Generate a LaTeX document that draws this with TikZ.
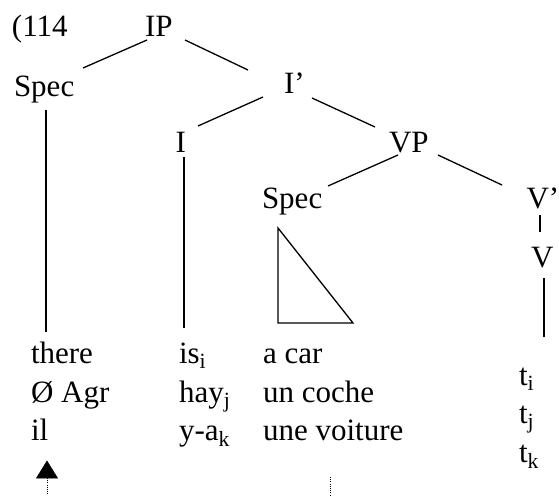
\documentclass[tikz,border=0pt]{standalone}
\usepackage{fontspec}
\setmainfont{Liberation Serif}
\newcommand\mysub[1]{\textsubscript{#1}}
\tikzset{
  lbl/.style={anchor=base west, inner sep=0pt, outer sep=0pt, font=\fontsize{31}{37}\selectfont},
  branch/.style={line width=1.3pt},
  dotline/.style={line width=0.9pt, dash pattern=on 0.9pt off 1.3pt},
  headtri/.style={fill=black, draw=black, line width=0.5pt, line join=miter}
}
\begin{document}
\begin{tikzpicture}[x=1pt,y=-1pt]
\useasboundingbox (0,0) rectangle (559,495);
% labels
\node[lbl] (num) at (12,37) {(114};
\node[lbl] (IP) at (145,37) {IP};
\node[lbl] (SpecA) at (14,96) {Spec};
\node[lbl] (Ibar) at (284,93) {I’};
\node[lbl] (I) at (175.5,152) {I};
\node[lbl] (VP) at (389,152) {VP};
\node[lbl] (SpecB) at (262,208) {Spec};
\node[lbl] (Vbar) at (526.5,208) {V’};
\node[lbl] (V) at (531,267) {V};
% terminals
\node[lbl] (there) at (31,363) {there};
\node[lbl] (agr) at (31,402) {Ø Agr};
\node[lbl] (il) at (31,440) {il};
\node[lbl] (is) at (179,363) {is\mysub{i}};
\node[lbl] (hay) at (179,402) {hay\mysub{j}};
\node[lbl] (ya) at (179,440) {y-a\mysub{k}};
\node[lbl] (car) at (263,363) {a car};
\node[lbl] (coche) at (263,402) {un coche};
\node[lbl] (voit) at (263,440) {une voiture};
\node[lbl] (ti) at (519,385) {t\mysub{i}};
\node[lbl] (tj) at (519,423) {t\mysub{j}};
\node[lbl] (tk) at (519,462) {t\mysub{k}};
% branch end points
\coordinate (ipL) at (147,40);   \coordinate (specAr) at (83,68);
\coordinate (ipR) at (185,40);   \coordinate (ibarL) at (248,70);
\coordinate (specAb) at (46,110); \coordinate (specAe) at (46,332);
\coordinate (ibarDL) at (263,97); \coordinate (It) at (198,126);
\coordinate (ibarDR) at (312,98); \coordinate (VPl) at (375,127);
\coordinate (Ib) at (184,157);   \coordinate (Ie) at (184,328);
\coordinate (VPdl) at (398,155); \coordinate (specBr) at (328,186);
\coordinate (VPdr) at (438,155); \coordinate (vbarT) at (502,185);
\coordinate (vbarB) at (540,215); \coordinate (Vt) at (540,232);
\coordinate (Vb) at (544,278);   \coordinate (Ve) at (544,337);
\coordinate (triA) at (278,228); \coordinate (triB) at (278,323); \coordinate (triC) at (353,323);
% branches
\draw[branch] (ipL) -- (specAr);
\draw[branch] (ipR) -- (ibarL);
\draw[branch] (specAb) -- (specAe);
\draw[branch] (ibarDL) -- (It);
\draw[branch] (ibarDR) -- (VPl);
\draw[branch] (Ib) -- (Ie);
\draw[branch] (VPdl) -- (specBr);
\draw[branch] (VPdr) -- (vbarT);
\draw[branch] (vbarB) -- (Vt);
\draw[branch] (Vb) -- (Ve);
\draw[branch, line join=miter] (triA) -- (triB) -- (triC) -- cycle;
% arrows / dotted lines
\coordinate (arrTip) at (47,461);
\coordinate (arrBase) at (47,478);
\coordinate (dotA) at (47,495);
\coordinate (dotBt) at (330,477);
\coordinate (dotBb) at (330,495);
\fill[headtri] (arrTip) -- ([xshift=-10.5pt]arrBase) -- ([xshift=10.5pt]arrBase) -- cycle;
\draw[dotline] (arrBase) -- (dotA);
\draw[dotline] (dotBt) -- (dotBb);
\end{tikzpicture}
\end{document}
